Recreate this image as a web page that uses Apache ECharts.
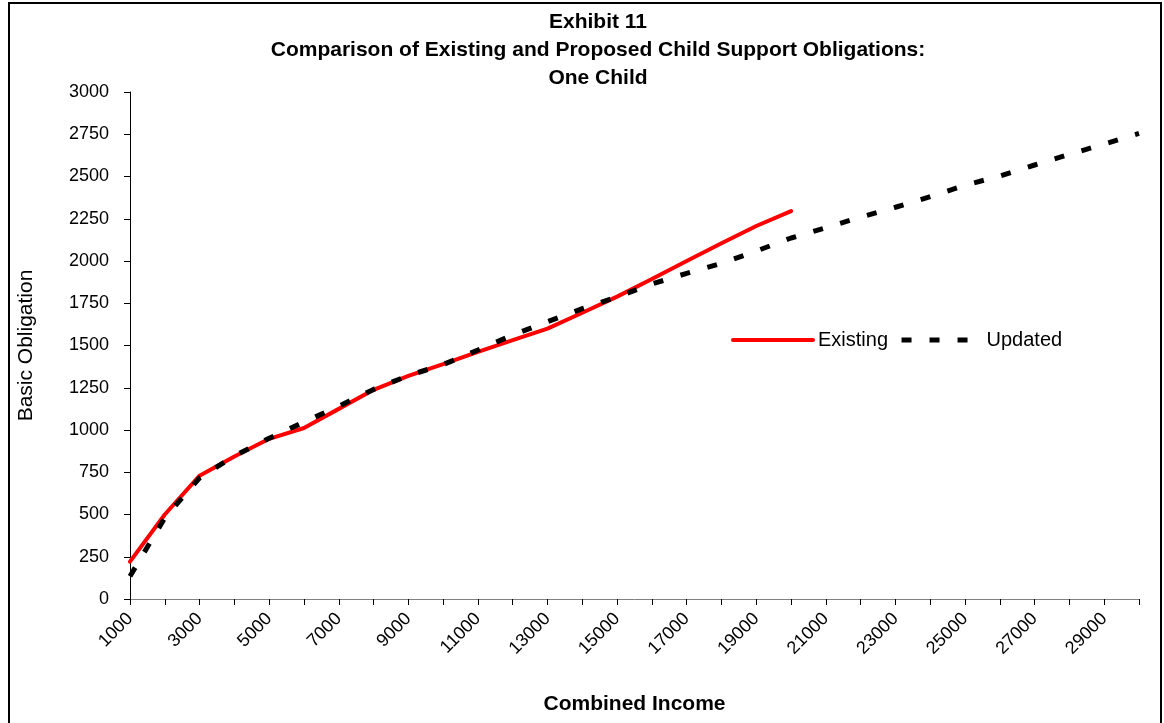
<!DOCTYPE html>
<html>
<head>
<meta charset="utf-8">
<script src="https://cdn.jsdelivr.net/npm/echarts@6/dist/echarts.min.js"></script>
<style>
  html, body {
    margin: 0;
    padding: 0;
    background: #ffffff;
  }
  #chart {
    width: 1164px;
    height: 723px;
  }
  .frame {
    position: absolute;
    left: 8px;
    top: 2px;
    width: 1150px;
    height: 800px;
    border: 2px solid #000;
    pointer-events: none;
  }
</style>
</head>
<body>
<div id="chart"></div>
<div class="frame"></div>
<script>
// combined income categories, 1000 to 30000
const incomes = []
for (let v = 1000; v <= 30000; v += 1000) incomes.push(String(v))

// existing schedule stops at 20000
const existing = [221, 500, 730, 843, 948, 1012, 1125, 1238, 1320, 1390,
  1462, 1532, 1600, 1694, 1789, 1893, 2000, 2105, 2207, 2295]

const updated = [135, 480, 717, 847, 951, 1047, 1141, 1240, 1322, 1387,
  1473, 1562, 1641, 1718, 1787, 1864, 1927, 1986, 2059, 2136,
  2197, 2260, 2318, 2381, 2448, 2503, 2568, 2631, 2692, 2755]

const chart = echarts.init(document.getElementById('chart'))

const font = 'Liberation Sans, Arial, sans-serif'

chart.setOption({
  animation: false,
  textStyle: { fontFamily: font },
  title: {
    text: 'Exhibit 11\nComparison of Existing and Proposed Child Support Obligations:\nOne Child',
    left: 593,
    top: 3,
    textAlign: 'center',
    textStyle: {
      fontFamily: font,
      fontSize: 21,
      fontWeight: 'bold',
      color: '#000',
      lineHeight: 28
    }
  },
  legend: {
    left: 731,
    top: 330,
    padding: 0,
    itemWidth: 80,
    itemHeight: 20,
    itemGap: 11,
    itemStyle: { opacity: 0 },
    textStyle: { fontFamily: font, fontSize: 20, color: '#000' },
    data: [
      { name: 'Existing', lineStyle: { width: 4, color: '#ff0000' } },
      { name: 'Updated', lineStyle: { width: 5, color: '#000', type: [10, 18] } }
    ]
  },
  grid: {
    left: 130,
    right: 25,
    top: 92,
    bottom: 124
  },
  xAxis: {
    type: 'category',
    data: incomes,
    boundaryGap: false,
    name: 'Combined Income',
    nameLocation: 'middle',
    nameGap: 95,
    nameTextStyle: { fontFamily: font, fontSize: 21, fontWeight: 'bold', color: '#000' },
    axisLine: { lineStyle: { color: '#808080', width: 1 } },
    axisTick: { interval: 0, length: 6, lineStyle: { color: '#000' } },
    axisLabel: {
      interval: 1,
      rotate: 45,
      margin: 17,
      fontFamily: font,
      fontSize: 18,
      color: '#000'
    },
    splitLine: { show: false }
  },
  yAxis: {
    type: 'value',
    min: 0,
    max: 3000,
    interval: 250,
    name: 'Basic Obligation',
    nameLocation: 'middle',
    nameGap: 93,
    nameTextStyle: { fontFamily: font, fontSize: 21, color: '#000' },
    axisLine: { show: true, lineStyle: { color: '#000', width: 1 } },
    axisTick: { show: true, length: 6, lineStyle: { color: '#000' } },
    axisLabel: {
      margin: 21,
      fontFamily: font,
      fontSize: 18,
      color: '#000',
      formatter: v => String(v)
    },
    splitLine: { show: false }
  },
  series: [
    {
      name: 'Existing',
      type: 'line',
      data: existing,
      symbol: 'none',
      color: '#ff0000',
      lineStyle: { color: '#ff0000', width: 4, cap: 'round' }
    },
    {
      name: 'Updated',
      type: 'line',
      data: updated,
      symbol: 'none',
      color: '#000',
      lineStyle: { color: '#000', width: 5, type: [10, 18] }
    }
  ]
})
</script>
</body>
</html>
